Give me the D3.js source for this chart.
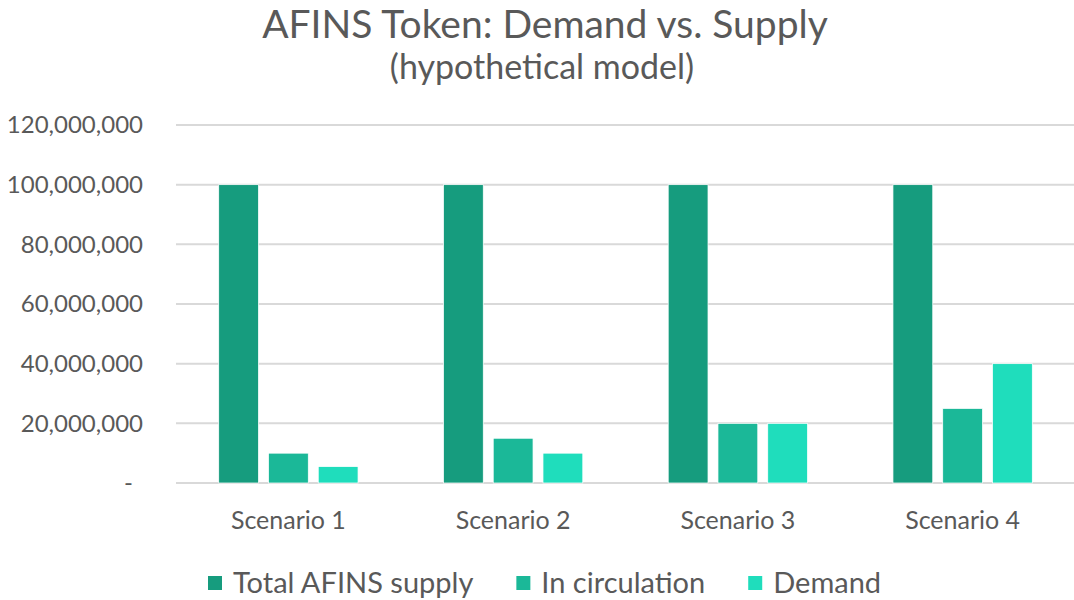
<!DOCTYPE html>
<html>
<head>
<meta charset="utf-8">
<script src="https://cdn.jsdelivr.net/npm/d3@7"></script>
<style>
  html, body { margin: 0; padding: 0; background: #fff; }
  svg { display: block; font-family: Lato, "Open Sans", sans-serif; }
</style>
</head>
<body>
<div id="chart"></div>
<script>
const categories = ["Scenario 1", "Scenario 2", "Scenario 3", "Scenario 4"];
const seriesNames = ["Total AFINS supply", "In circulation", "Demand"];
const totalSupply = [100000000, 100000000, 100000000, 100000000];
const inCirculation = [10000000, 15000000, 20000000, 25000000];
const demand = [5500000, 10000000, 20000000, 40000000];
const yTicks = [0, 20000000, 40000000, 60000000, 80000000, 100000000, 120000000];
const colors = ["#169c7e", "#1bb898", "#1fddbc"];

const width = 1074, height = 600;
const textColor = "#595959";

const svg = d3.select("#chart").append("svg")
  .attr("width", width)
  .attr("height", height);

// title
svg.append("text")
  .attr("x", 545).attr("y", 38)
  .attr("text-anchor", "middle")
  .attr("font-size", 39)
  .attr("fill", textColor)
  .text("AFINS Token: Demand vs. Supply");
svg.append("text")
  .attr("x", 542).attr("y", 79)
  .attr("text-anchor", "middle")
  .attr("font-size", 34)
  .attr("fill", textColor)
  .text("(hypothetical model)");

const y = d3.scaleLinear().domain([0, 120000000]).range([483, 125]);
const x0 = d3.scaleBand().domain(categories).range([176, 1075])
  .paddingInner(0.38).paddingOuter(0.19);
const x1 = d3.scaleBand().domain(seriesNames).range([0, x0.bandwidth()])
  .paddingInner(0.2).paddingOuter(0);

// gridlines
svg.append("g")
  .selectAll("line")
  .data(yTicks)
  .enter().append("line")
  .attr("x1", 176).attr("x2", width)
  .attr("y1", d => y(d)).attr("y2", d => y(d))
  .style("stroke", "#d9d9d9")
  .style("stroke-width", "2px");

// y axis labels
const yAxis = svg.append("g")
  .attr("transform", "translate(143,0)")
  .call(d3.axisLeft(y).tickValues(yTicks).tickSize(0).tickPadding(0)
    .tickFormat(d => d === 0 ? "-" : d3.format(",")(d)));
yAxis.select(".domain").remove();
yAxis.selectAll("text")
  .attr("font-size", 24)
  .attr("font-family", "Lato, 'Open Sans', sans-serif")
  .attr("fill", textColor)
  .attr("dx", d => d === 0 ? -10 : 0);

// bars
const rows = categories.map((c, i) => ({
  category: c,
  values: [totalSupply[i], inCirculation[i], demand[i]]
}));

const group = svg.append("g")
  .selectAll("g")
  .data(rows)
  .enter().append("g")
  .attr("transform", d => `translate(${x0(d.category)},0)`);

group.selectAll("rect")
  .data(d => d.values.map((v, j) => ({ name: seriesNames[j], value: v, j })))
  .enter().append("rect")
  .attr("x", d => x1(d.name))
  .attr("width", x1.bandwidth())
  .attr("y", d => y(d.value))
  .attr("height", d => y(0) - y(d.value))
  .style("fill", d => colors[d.j])
  .style("stroke", "#ffffff")
  .style("stroke-width", "0.75px");

// category labels
svg.append("g")
  .selectAll("text")
  .data(categories)
  .enter().append("text")
  .attr("x", d => x0(d) + x0.bandwidth() / 2)
  .attr("y", 529)
  .attr("text-anchor", "middle")
  .attr("font-size", 25)
  .attr("fill", textColor)
  .text(d => d);

// legend
const legend = svg.append("g");
let lx = 208;
seriesNames.forEach((name, i) => {
  legend.append("rect")
    .attr("x", lx).attr("y", 576)
    .attr("width", 14).attr("height", 14)
    .style("fill", colors[i]);
  const t = legend.append("text")
    .attr("x", lx + 25).attr("y", 593)
    .attr("font-size", 29)
    .attr("fill", textColor)
    .text(name);
  lx += 25 + t.node().getComputedTextLength() + 43;
});
</script>
</body>
</html>
